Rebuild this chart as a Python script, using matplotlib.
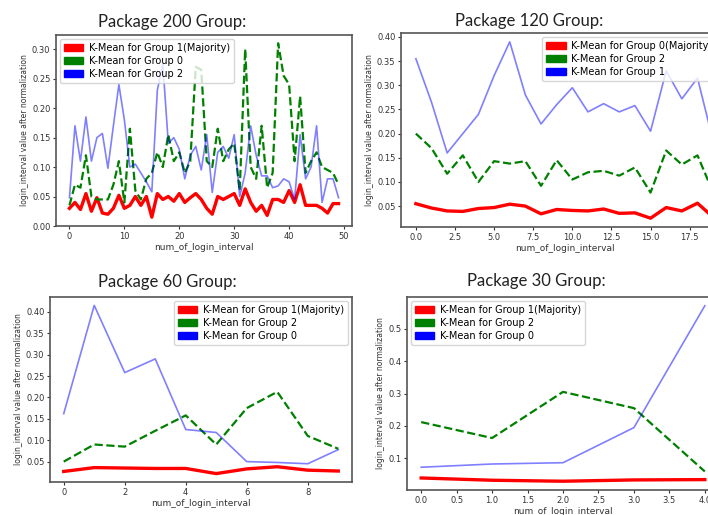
import matplotlib
matplotlib.use("Agg")
import matplotlib.pyplot as plt
import matplotlib.patches as patches
import numpy as np

# Package 200 group values
p200_red = [0.030, 0.040, 0.028, 0.055, 0.025, 0.048, 0.022, 0.020, 0.030, 0.052,
            0.030, 0.035, 0.050, 0.035, 0.050, 0.015, 0.055, 0.045, 0.050, 0.042,
            0.055, 0.040, 0.048, 0.055, 0.045, 0.030, 0.020, 0.050, 0.045, 0.050,
            0.055, 0.035, 0.063, 0.040, 0.025, 0.035, 0.018, 0.045, 0.045, 0.040,
            0.060, 0.040, 0.070, 0.035, 0.035, 0.035, 0.030, 0.022, 0.038, 0.038]
p200_green = [0.035, 0.070, 0.065, 0.120, 0.050, 0.045, 0.045, 0.045, 0.070, 0.110,
              0.040, 0.165, 0.060, 0.045, 0.080, 0.090, 0.125, 0.100, 0.155, 0.110,
              0.125, 0.090, 0.110, 0.270, 0.265, 0.110, 0.100, 0.165, 0.110, 0.130,
              0.140, 0.060, 0.300, 0.100, 0.080, 0.170, 0.065, 0.090, 0.310, 0.255,
              0.240, 0.110, 0.220, 0.090, 0.110, 0.125, 0.100, 0.095, 0.090, 0.070]
p200_blue = [0.048, 0.170, 0.110, 0.185, 0.110, 0.150, 0.157, 0.098, 0.170, 0.240,
             0.180, 0.100, 0.105, 0.090, 0.075, 0.058, 0.230, 0.275, 0.140, 0.150,
             0.130, 0.080, 0.120, 0.135, 0.095, 0.155, 0.057, 0.125, 0.135, 0.115,
             0.155, 0.050, 0.090, 0.170, 0.120, 0.085, 0.085, 0.065, 0.068, 0.080,
             0.075, 0.045, 0.155, 0.080, 0.100, 0.170, 0.040, 0.080, 0.080, 0.048]

# Package 120 group values
p120_red = [0.055, 0.046, 0.040, 0.039, 0.045, 0.047, 0.054, 0.050, 0.034, 0.043,
            0.041, 0.040, 0.044, 0.035, 0.036, 0.025, 0.047, 0.040, 0.056, 0.027]
p120_green = [0.200, 0.170, 0.117, 0.155, 0.100, 0.143, 0.138, 0.143, 0.092, 0.145,
              0.105, 0.120, 0.123, 0.113, 0.130, 0.078, 0.165, 0.136, 0.155, 0.078]
p120_blue = [0.355, 0.265, 0.160, 0.200, 0.240, 0.320, 0.390, 0.280, 0.220, 0.260,
             0.295, 0.245, 0.262, 0.245, 0.258, 0.205, 0.330, 0.272, 0.315, 0.185]

# Package 60 group values
p60_red = [0.027, 0.036, 0.035, 0.034, 0.034, 0.022, 0.033, 0.038, 0.030, 0.028]
p60_green = [0.050, 0.090, 0.085, 0.122, 0.158, 0.090, 0.175, 0.213, 0.110, 0.080]
p60_blue = [0.162, 0.415, 0.258, 0.290, 0.125, 0.118, 0.050, 0.048, 0.045, 0.078]

# Package 30 group values
p30_red = [0.040, 0.033, 0.030, 0.034, 0.035]
p30_green = [0.212, 0.163, 0.305, 0.255, 0.060]
p30_blue = [0.073, 0.083, 0.087, 0.195, 0.570]

W, H = 708, 515
fig = plt.figure(figsize=(W / 100, H / 100), dpi=100)
title_font = ['Lato', 'DejaVu Sans']


def make_axes(l, r, t, b):
    return fig.add_axes([l / W, 1 - b / H, (r - l) / W, (b - t) / H])


def draw_panel(box, red, green, blue, labels, title, title_xy, legend_loc, anchor=None):
    ax = make_axes(*box)
    x = np.arange(len(red))
    ax.plot(x, red, color='red', linewidth=2.4)
    ax.plot(x, green, color='green', linewidth=1.6, linestyle='--')
    ax.plot(x, blue, color='blue', linewidth=1.2, alpha=0.5)
    handles = [patches.Patch(color='red', label=labels[0]),
               patches.Patch(color='green', label=labels[1]),
               patches.Patch(color='blue', label=labels[2])]
    ax.legend(handles=handles, loc=legend_loc, bbox_to_anchor=anchor, prop={'size': 7},
              handlelength=2, borderaxespad=0.4, labelspacing=0.3, handletextpad=0.6)
    ax.set_xlabel('num_of_login_interval', fontsize=6.5, labelpad=1.5, color='#333')
    ax.set_ylabel('login_interval value after normalization', fontsize=5.5,
                  labelpad=2, color='#333')
    ax.tick_params(labelsize=6, length=2.5, pad=1.5, colors='#333')
    for s in ax.spines.values():
        s.set_color('#555')
        s.set_linewidth(1.2)
    fig.text(title_xy[0] / W, 1 - title_xy[1] / H, title, ha='center', va='center',
             fontsize=12, family=title_font, color='#222')
    return ax


ax1 = draw_panel((56, 352, 35, 226), p200_red, p200_green, p200_blue,
                 ['K-Mean for Group 1(Majority)', 'K-Mean for Group 0', 'K-Mean for Group 2'],
                 'Package 200 Group:', (172, 22), 'upper left')
ax1.set_ylim(0, 0.324)
draw_panel((401, 728, 33, 227), p120_red, p120_green, p120_blue,
           ['K-Mean for Group 0(Majority)', 'K-Mean for Group 2', 'K-Mean for Group 1'],
           'Package 120 Group:', (529, 21), 'upper left', anchor=(0.42, 1.0))
draw_panel((50, 352, 297, 482), p60_red, p60_green, p60_blue,
           ['K-Mean for Group 1(Majority)', 'K-Mean for Group 2', 'K-Mean for Group 0'],
           'Package 60 Group:', (167, 282), 'upper right')
draw_panel((407, 719, 297, 490), p30_red, p30_green, p30_blue,
           ['K-Mean for Group 1(Majority)', 'K-Mean for Group 2', 'K-Mean for Group 0'],
           'Package 30 Group:', (536, 281), 'upper left')

fig.savefig('out.png', dpi=100)
